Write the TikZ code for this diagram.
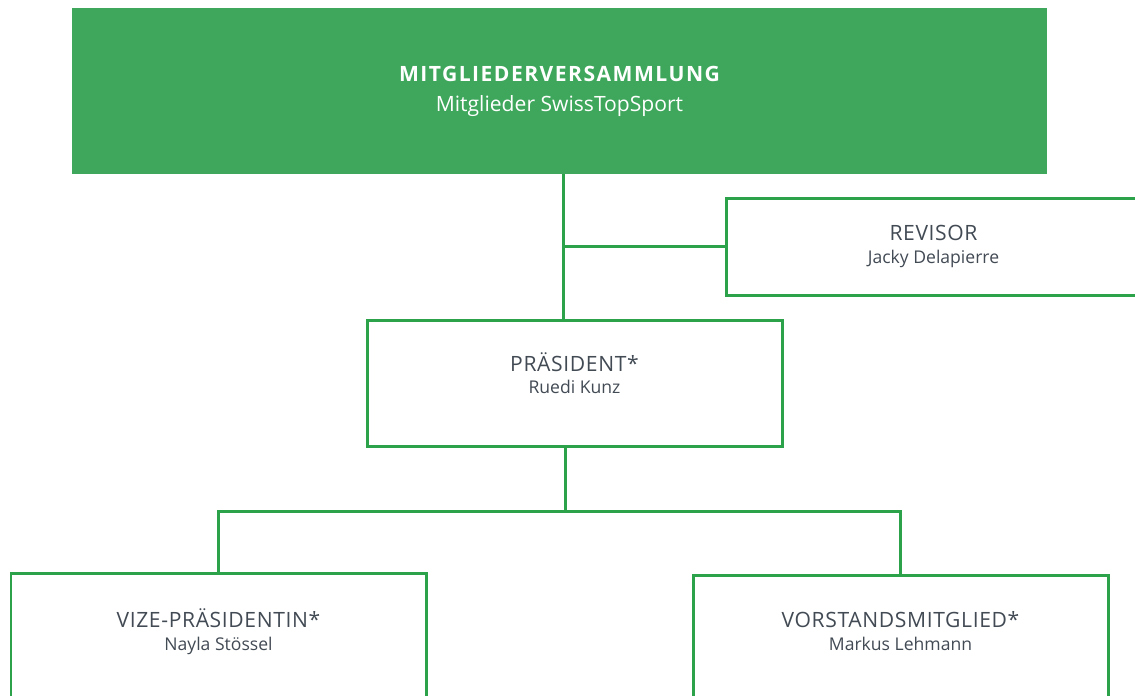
\documentclass[tikz,border=0pt]{standalone}
\usepackage{fontspec}
\setmainfont{Open Sans}
\usepackage{tikz}
\usetikzlibrary{positioning,calc}
\definecolor{sportgreen}{RGB}{62,167,92}
\definecolor{linegreen}{RGB}{44,162,74}
\definecolor{textgray}{RGB}{66,74,84}
\tikzset{
  assemblybox/.style={fill=sportgreen, draw=none, minimum width=19.5cm, minimum height=3.32cm,
    align=center, text=white, font=\fontsize{12}{14}\selectfont},
  rolebox/.style={draw=linegreen, line width=1.7pt, fill=white, minimum width=8.3cm,
    minimum height=2.52cm, align=center, text=textgray, font=\fontsize{12}{13}\selectfont},
  link/.style={draw=linegreen, line width=1.7pt}
}
\begin{document}
\begin{tikzpicture}
\useasboundingbox (0,0) rectangle (22.7,-13.9);
\clip (0,0) rectangle (22.7,-13.9);

\node[assemblybox] (assembly) at (11.19,-1.82)
  {{\bfseries\addfontfeatures{LetterSpace=7}MITGLIEDERVERSAMMLUNG}\\[3pt]
   {\fontsize{12}{14}\selectfont Mitglieder SwissTopSport}};
\node[rolebox, minimum height=1.94cm] (auditor) at (18.67,-4.93)
  {{\addfontfeatures{LetterSpace=3}REVISOR}\\[0pt]{\fontsize{10}{12}\selectfont Jacky Delapierre}};
\node[rolebox, text depth=0.4cm] (president) at (11.49,-7.66)
  {{\addfontfeatures{LetterSpace=3}PRÄSIDENT*}\\[0pt]{\fontsize{10}{12}\selectfont Ruedi Kunz}};
\node[rolebox, text depth=0.25cm] (vicepres) at (4.37,-12.72)
  {{\addfontfeatures{LetterSpace=3}VIZE-PRÄSIDENTIN*}\\[0pt]{\fontsize{10}{12}\selectfont Nayla Stössel}};
\node[rolebox, text depth=0.28cm] (member) at (18.01,-12.76)
  {{\addfontfeatures{LetterSpace=3}VORSTANDSMITGLIED*}\\[0pt]{\fontsize{10}{12}\selectfont Markus Lehmann}};

\coordinate (upjoin) at (11.26,-4.93);
\coordinate (downjoin) at (11.3,-10.22);

\draw[link] (assembly.south -| upjoin) -- (president.north -| upjoin);
\draw[link] (upjoin) -- (auditor.west);
\draw[link] (president.south -| downjoin) -- (downjoin);
\draw[link] (downjoin) -| (vicepres.north);
\draw[link] (downjoin) -| (member.north);
\end{tikzpicture}
\end{document}
